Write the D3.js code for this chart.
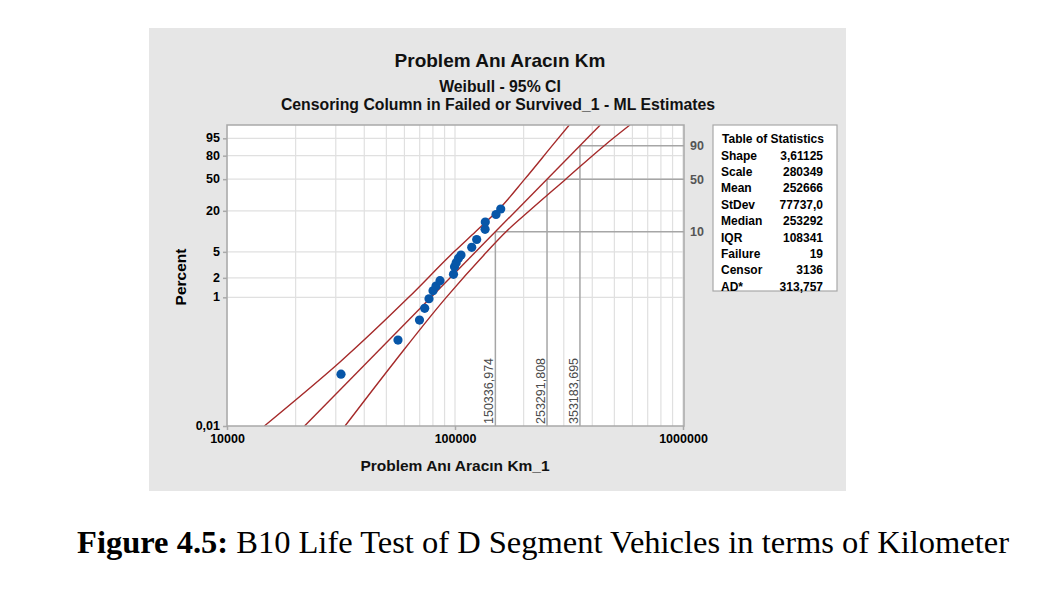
<!DOCTYPE html>
<html>
<head>
<meta charset="utf-8">
<script src="https://cdn.jsdelivr.net/npm/d3@7/dist/d3.min.js"></script>
<style>
  body { margin: 0; background: #fff; }
  svg text { font-family: "Liberation Sans", Arial, sans-serif; }
</style>
</head>
<body>
<div id="chart"></div>
<script>
// failures
const failureKm  = [31620, 56230, 69870, 73630, 76910, 80090, 82550, 85950,
                    98490, 99500, 101200, 103600, 106250, 118400, 124500,
                    135500, 135800, 151300, 158700];
const failurePct = [0.064, 0.217, 0.444, 0.675, 0.951, 1.265, 1.495, 1.806,
                    2.266, 2.965, 3.414, 3.985, 4.474, 5.853, 7.669,
                    10.86, 13.88, 17.75, 21.18];

// 95% confidence bounds (km) at these percents
const ciPct     = [0.01, 0.1, 1, 5, 10, 20, 50, 90, 99.2];
const ciLowerKm = [14575, 31400, 62640, 99000, 123000, 153600, 202200, 266900, 317000];
const ciUpperKm = [32930, 54330, 91580, 138000, 167400, 212000, 305900, 451200, 585000];

// fitted weibull
const shape = 3.61125;
const scale = 280349;
const fitPct = [0.01, 99.2];

// B10 / B50 / B90 reference lines
const refPct = [10, 50, 90];
const refKm  = [150336.974, 253291.808, 353183.695];

const yTicks      = [0.01, 1, 2, 5, 20, 50, 80, 95];
const yTickLabels = ["0,01", "1", "2", "5", "20", "50", "80", "95"];
const xTicks      = [10000, 100000, 1000000];

const statLabels = ["Shape", "Scale", "Mean", "StDev", "Median", "IQR", "Failure", "Censor", "AD*"];
const statValues = ["3,61125", "280349", "252666", "77737,0", "253292", "108341", "19", "3136", "313,757"];

// weibull probability transform
const weib = p => Math.log(-Math.log(1 - p / 100));
const fitKm = p => scale * Math.pow(-Math.log(1 - p / 100), 1 / shape);
const trLocale = d3.formatLocale({decimal: ",", thousands: ".", grouping: [3], currency: ["", ""]});

class WeibullPlot {
    constructor(element) {
        this.element = element;
        this.draw();
    }

    draw() {
        this.width = 1045;
        this.height = 593;
        this.box = {left: 227, top: 125, right: 684, bottom: 426};

        this.svg = d3.select(this.element).append("svg")
            .attr("width", this.width)
            .attr("height", this.height);

        // grey minitab panel
        this.svg.append("rect")
            .attr("x", 149).attr("y", 28)
            .attr("width", 697).attr("height", 463)
            .attr("fill", "#e6e6e6");

        this.svg.append("rect")
            .attr("x", this.box.left).attr("y", this.box.top)
            .attr("width", this.box.right - this.box.left)
            .attr("height", this.box.bottom - this.box.top)
            .attr("fill", "#fff");

        this.createScales();
        this.addGrid();
        this.addRefLines();
        this.addLines();
        this.addPoints();
        this.addAxes();
        this.addTitles();
        this.addTable();
    }

    createScales() {
        this.xScale = d3.scaleLog()
            .domain([10000, 1000000])
            .range([this.box.left, this.box.right - 1]);

        this.yScale = d3.scaleLinear()
            .domain([weib(0.01), weib(99.2)])
            .range([this.box.bottom, this.box.top]);
    }

    addGrid() {
        const g = this.svg.append("g").attr("stroke", "#e0e0e0").attr("stroke-width", 1.2);
        g.selectAll(".vx")
            .data(this.xScale.ticks())
            .enter().append("line")
            .attr("x1", d => this.xScale(d)).attr("x2", d => this.xScale(d))
            .attr("y1", this.box.top).attr("y2", this.box.bottom);
        g.selectAll(".hy")
            .data(yTicks.slice(1))
            .enter().append("line")
            .attr("x1", this.box.left).attr("x2", this.box.right)
            .attr("y1", d => this.yScale(weib(d))).attr("y2", d => this.yScale(weib(d)));
    }

    addRefLines() {
        const g = this.svg.append("g").attr("stroke", "#a6a6a6").attr("stroke-width", 1.5);
        const fmt = trLocale.format(".3f");
        refKm.forEach((v, i) => {
            const x = this.xScale(v), y = this.yScale(weib(refPct[i]));
            g.append("line")
                .attr("x1", x).attr("x2", this.box.right)
                .attr("y1", y).attr("y2", y);
            g.append("line")
                .attr("x1", x).attr("x2", x)
                .attr("y1", y).attr("y2", this.box.bottom);
            this.svg.append("text")
                .attr("transform", `translate(${x - 2},${this.box.bottom - 2}) rotate(-90)`)
                .attr("font-size", 12.5)
                .attr("fill", "#4a4a4a")
                .text(fmt(v));
        });

        this.svg.append("g")
            .attr("transform", `translate(${this.box.right},0)`)
            .call(d3.axisRight(this.yScale)
                .tickValues(refPct.map(weib))
                .tickFormat((d, i) => refPct[i])
                .tickSize(0).tickPadding(6))
            .call(g => g.select(".domain").remove())
            .selectAll("text")
            .attr("font-size", 12.5).attr("font-weight", "bold").attr("fill", "#555");
    }

    addLines() {
        this.svg.append("clipPath").attr("id", "plotclip")
            .append("rect")
            .attr("x", this.box.left).attr("y", this.box.top)
            .attr("width", this.box.right - this.box.left)
            .attr("height", this.box.bottom - this.box.top);

        const line = d3.line()
            .x(d => this.xScale(d[0]))
            .y(d => this.yScale(weib(d[1])))
            .curve(d3.curveMonotoneY);

        const g = this.svg.append("g")
            .attr("clip-path", "url(#plotclip)")
            .attr("fill", "none")
            .attr("stroke", "#a52a2a")
            .attr("stroke-width", 1.4);

        g.append("path").attr("d", line(ciPct.map((p, i) => [ciLowerKm[i], p])));
        g.append("path").attr("d", line(ciPct.map((p, i) => [ciUpperKm[i], p])));
        g.append("path").attr("d", line(fitPct.map(p => [fitKm(p), p])));
    }

    addPoints() {
        this.svg.append("g")
            .selectAll("circle")
            .data(failureKm)
            .enter().append("circle")
            .attr("cx", d => this.xScale(d))
            .attr("cy", (d, i) => this.yScale(weib(failurePct[i])))
            .attr("r", 4.6)
            .attr("fill", "#0756a8");
    }

    addAxes() {
        // plot frame
        this.svg.append("rect")
            .attr("x", this.box.left).attr("y", this.box.top)
            .attr("width", this.box.right - this.box.left)
            .attr("height", this.box.bottom - this.box.top)
            .attr("fill", "none").attr("stroke", "#a9a9a9").attr("stroke-width", 1.5);

        const xAxis = d3.axisBottom(this.xScale)
            .tickValues(xTicks)
            .tickFormat(d3.format("d"))
            .tickSize(4).tickPadding(4);

        const yAxis = d3.axisLeft(this.yScale)
            .tickValues(yTicks.map(weib))
            .tickFormat((d, i) => yTickLabels[i])
            .tickSize(4).tickPadding(3);

        this.svg.append("g")
            .attr("transform", `translate(0,${this.box.bottom})`)
            .call(xAxis)
            .call(g => g.select(".domain").remove());

        this.svg.append("g")
            .attr("transform", `translate(${this.box.left},0)`)
            .call(yAxis)
            .call(g => g.select(".domain").remove())
            .selectAll(".tick text").attr("dy", "0.28em");

        this.svg.selectAll(".tick line").attr("stroke", "#a9a9a9").attr("stroke-width", 1.5);
        this.svg.selectAll(".tick text")
            .attr("font-family", "Liberation Sans, Arial, sans-serif")
            .attr("font-size", 12.5).attr("font-weight", "bold");
    }

    addTitles() {
        const t = (x, y, size, txt) => this.svg.append("text")
            .attr("x", x).attr("y", y)
            .attr("text-anchor", "middle")
            .attr("font-size", size).attr("font-weight", "bold")
            .attr("fill", "#111")
            .text(txt);

        t(500, 67, 19, "Problem Anı Aracın Km");
        t(500, 92, 15.8, "Weibull - 95% CI");
        t(498, 110, 15.8, "Censoring Column in Failed or Survived_1 - ML Estimates");
        t(455, 471, 15.5, "Problem Anı Aracın Km_1");

        this.svg.append("text")
            .attr("transform", "translate(186,277) rotate(-90)")
            .attr("text-anchor", "middle")
            .attr("font-size", 15.5).attr("font-weight", "bold")
            .text("Percent");

        // figure caption under the panel
        const cap = this.svg.append("text")
            .attr("x", 543).attr("y", 553)
            .attr("text-anchor", "middle")
            .attr("font-size", 32.5)
            .style("font-family", "'Liberation Serif', 'Times New Roman', serif");
        cap.append("tspan").attr("font-weight", "bold").text("Figure 4.5:");
        cap.append("tspan").text(" B10 Life Test of D Segment Vehicles in terms of Kilometer");
    }

    addTable() {
        const x0 = 713, y0 = 125;
        this.svg.append("rect")
            .attr("x", x0).attr("y", y0)
            .attr("width", 124).attr("height", 166)
            .attr("fill", "#fff").attr("stroke", "#a9a9a9").attr("stroke-width", 1.2);

        this.svg.append("text")
            .attr("x", x0 + 60).attr("y", 143)
            .attr("text-anchor", "middle")
            .attr("font-size", 12).attr("font-weight", "bold")
            .text("Table of Statistics");

        const rows = this.svg.append("g")
            .selectAll("g")
            .data(statLabels)
            .enter().append("g")
            .attr("transform", (d, i) => `translate(0,${159.5 + i * 16.4})`)
            .attr("font-size", 12).attr("font-weight", "bold");

        rows.append("text").attr("x", x0 + 8).text(d => d);
        rows.append("text").attr("x", x0 + 110).attr("text-anchor", "end")
            .text((d, i) => statValues[i]);
    }
}

new WeibullPlot(document.getElementById("chart"));
</script>
</body>
</html>
